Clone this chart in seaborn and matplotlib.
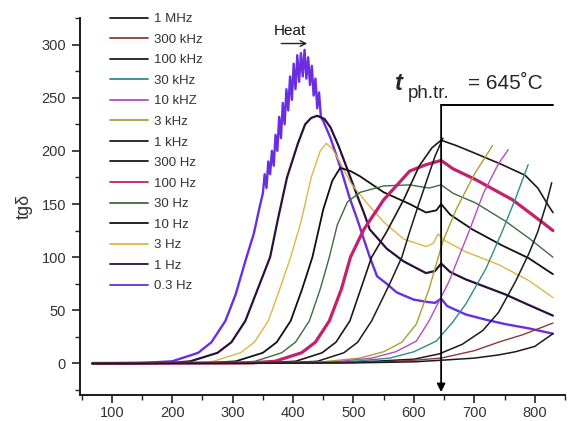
import numpy as np
import pandas as pd
import matplotlib
matplotlib.use("Agg")
import matplotlib.pyplot as plt
import seaborn as sns

# ---- data: loss tangent vs temperature for each measuring frequency ----
freq_labels = ["1 MHz", "300 kHz", "100 kHz", "30 kHz", "10 kHZ", "3 kHz", "1 kHz",
               "300 Hz", "100 Hz", "30 Hz", "10 Hz", "3 Hz", "1 Hz", "0.3 Hz"]

line_colors = ["#1b1b1b", "#8b3a3a", "#1b1b1b", "#2e8b8b", "#b24cc4", "#a8a032", "#1b1b1b",
               "#221616", "#c4206e", "#3d6b3d", "#111111", "#e2b444", "#2a1040", "#6a2ee0"]
line_widths = [1.1, 1.0, 1.1, 1.0, 1.0, 1.0, 1.1, 1.2, 2.3, 1.0, 1.3, 1.0, 1.6, 1.7]

t_1MHz = [68, 300, 500, 600, 645, 700, 740, 768, 800, 830]
v_1MHz = [0, 0, 0.5, 1.5, 3, 5, 8, 11, 16, 28]

t_300kHz = [68, 450, 550, 600, 645, 700, 740, 780, 830]
v_300kHz = [0, 0.5, 1.5, 3, 5, 12, 20, 27, 38]

t_100kHz = [68, 500, 600, 642, 680, 714, 740, 768, 790, 805, 818, 828]
v_100kHz = [0, 1, 4, 9, 18, 31, 48, 77, 103, 124, 148, 170]

t_30kHz = [68, 480, 560, 600, 637, 663, 686, 719, 746, 768, 789]
v_30kHz = [0, 1, 5, 11, 21, 38, 56, 89, 124, 155, 187]

t_10kHz = [68, 460, 530, 570, 604, 625, 658, 691, 715, 740, 756]
v_10kHz = [0, 1, 5, 11, 21, 40, 77, 124, 160, 188, 201]

t_3kHz = [68, 440, 510, 550, 580, 604, 625, 648, 670, 700, 730]
v_3kHz = [0, 1, 5, 11, 20, 37, 70, 115, 145, 178, 205]

t_1kHz = [68, 380, 440, 484, 507, 530, 560, 580, 593, 608, 620, 635, 648]
v_1kHz = [0, 0.5, 2, 10, 20, 40, 75, 100, 124, 150, 170, 195, 212]

t_300Hz = [68, 350, 404, 448, 471, 494, 515, 530, 555, 583, 609, 630, 645,
           670, 700, 746, 784, 805, 822, 830]
v_300Hz = [0, 0.5, 2, 10, 20, 40, 75, 100, 124, 154, 186, 203, 210,
           205, 198, 187, 177, 165, 149, 142]

t_100Hz = [68, 330, 370, 414, 437, 460, 480, 495, 517, 550, 593, 620, 645,
           665, 702, 763, 812, 830]
v_100Hz = [0, 0.5, 2, 10, 20, 40, 70, 100, 126, 154, 181, 187, 191,
           183, 173, 154, 133, 125]

t_30Hz = [68, 300, 337, 381, 404, 427, 445, 460, 473, 490, 511, 550, 593,
          625, 645, 665, 702, 751, 790, 830]
v_30Hz = [0, 0.5, 2, 10, 20, 40, 70, 100, 130, 152, 161, 167, 168,
          165, 168, 160, 151, 134, 118, 100]

t_10Hz = [68, 260, 305, 350, 373, 396, 415, 432, 450, 465, 478, 495, 511,
          550, 593, 620, 637, 645, 660, 697, 746, 790, 830]
v_10Hz = [0, 0.5, 2, 10, 20, 40, 70, 100, 145, 172, 184, 181, 176,
          161, 150, 142, 144, 150, 140, 126, 111, 99, 84]

t_3Hz = [68, 230, 268, 313, 336, 359, 378, 396, 413, 430, 445, 455, 465,
         478, 495, 522, 550, 583, 620, 632, 640, 650, 686, 740, 790, 830]
v_3Hz = [0, 0.5, 2, 10, 20, 40, 70, 100, 133, 175, 200, 207, 202,
         189, 170, 151, 133, 117, 110, 113, 122, 116, 105, 93, 78, 62]

t_1Hz = [68, 200, 230, 275, 298, 321, 362, 375, 390, 408, 420, 430, 440,
         452, 462, 475, 485, 506, 517, 527, 555, 583, 620, 635, 645, 660,
         686, 751, 790, 830]
v_1Hz = [0, 0.5, 2, 10, 20, 40, 100, 136, 175, 207, 225, 231, 233,
         230, 222, 205, 190, 158, 142, 126, 108, 96, 85, 87, 94, 86,
         79, 65, 55, 45]

t_03Hz = [68, 150, 200, 243, 265, 288, 305, 323, 335, 345, 350, 353, 356, 359,
          362, 365, 368, 371, 374, 377, 380, 383, 386, 389, 392, 395, 398, 401,
          404, 407, 410, 413, 416, 419, 422, 425, 428, 431, 434, 437, 440, 443,
          446, 450, 462, 478, 494, 506, 517, 527, 539, 555, 571, 583, 600, 620,
          635, 645, 655, 686, 720, 751, 790, 830]
v_03Hz = [0, 0.5, 2, 10, 20, 40, 65, 100, 122, 148, 160, 178, 165, 190,
          178, 200, 186, 215, 200, 232, 212, 245, 225, 258, 238, 270, 248, 282,
          258, 290, 265, 292, 270, 295, 268, 288, 262, 280, 252, 268, 240, 255,
          232, 228, 212, 185, 155, 136, 117, 100, 82, 75, 67, 64, 60, 58,
          57, 61, 54, 46, 41, 37, 33, 28]

series = [(t_1MHz, v_1MHz), (t_300kHz, v_300kHz), (t_100kHz, v_100kHz),
          (t_30kHz, v_30kHz), (t_10kHz, v_10kHz), (t_3kHz, v_3kHz),
          (t_1kHz, v_1kHz), (t_300Hz, v_300Hz), (t_100Hz, v_100Hz),
          (t_30Hz, v_30Hz), (t_10Hz, v_10Hz), (t_3Hz, v_3Hz),
          (t_1Hz, v_1Hz), (t_03Hz, v_03Hz)]

t_transition = 645
x_ticks = [100, 200, 300, 400, 500, 600, 700, 800]
y_ticks = [0, 50, 100, 150, 200, 250, 300]

frames = []
for lab, (t, v) in zip(freq_labels, series):
    frames.append(pd.DataFrame({"T": t, "tg": v, "freq": lab}))
df = pd.concat(frames, ignore_index=True)

# ---- figure ----
sns.set_style("ticks")
plt.rcParams["font.family"] = ["Liberation Sans", "DejaVu Sans"]

W, H = 572, 421
fig = plt.figure(figsize=(W / 100, H / 100), dpi=100)
ax = fig.add_axes([80 / W, (H - 395) / H, (565 - 80) / W, (395 - 18) / H])

# draw high-frequency curves first so low-frequency peaks sit on top
for lab, col, lw in reversed(list(zip(freq_labels, line_colors, line_widths))):
    sub = df[df["freq"] == lab]
    sns.lineplot(data=sub, x="T", y="tg", ax=ax, color=col, lw=lw,
                 label=lab, sort=False, estimator=None)

ax.set_xlim(47.4, 844)
ax.set_ylim(-29.7, 320.4)
ax.set_xticks(x_ticks)
ax.set_yticks(y_ticks)
ax.set_xticks([x + 50 for x in [0] + x_ticks], minor=True)
ax.set_yticks([-25] + [y + 25 for y in y_ticks], minor=True)
ax.tick_params(axis="both", which="major", direction="out", length=6, width=1.2,
               labelsize=10.5, labelcolor="#333333", color="#222222")
ax.tick_params(axis="x", which="major", pad=2)
ax.tick_params(axis="y", which="major", pad=4)
ax.tick_params(axis="both", which="minor", direction="out", length=3.5, width=1.0,
               color="#222222")
sns.despine(ax=ax)
for s in ("left", "bottom"):
    ax.spines[s].set_linewidth(1.4)
    ax.spines[s].set_color("#1a1a1a")
ax.set_xlabel("")
ax.set_ylabel("tgδ", fontsize=13, color="#333333", labelpad=6)

# legend in frequency order
handles, labels = ax.get_legend_handles_labels()
lookup = dict(zip(labels, handles))
leg = ax.legend([lookup[l] for l in freq_labels], freq_labels,
                loc="upper left", bbox_to_anchor=(110 / W, 1 - 13 / H),
                bbox_transform=fig.transFigure, frameon=False, fontsize=9.5,
                handlelength=2.9, handletextpad=0.4, labelspacing=0.63,
                borderpad=0, borderaxespad=0)
for txt in leg.get_texts():
    txt.set_color("#333333")
for hl in leg.get_lines():
    hl.set_linewidth(1.3)

# heating direction
ax.text(394, 313, "Heat", fontsize=11, ha="center", va="center", color="#111111")
ax.annotate("", xy=(428, 301), xytext=(376, 301),
            arrowprops=dict(arrowstyle="->", lw=1.0, color="#222222"))

# phase transition marker
y_bar = 243
ax.plot([t_transition, 830], [y_bar, y_bar], color="black", lw=1.4)
ax.annotate("", xy=(t_transition, -27), xytext=(t_transition, y_bar),
            arrowprops=dict(arrowstyle="-|>", lw=1.3, color="black",
                            mutation_scale=12, shrinkA=0, shrinkB=0))
fig.text(395 / W, 1 - 90 / H, "t", fontsize=17, style="italic", fontweight="bold",
         va="baseline", ha="left")
fig.text(408 / W, 1 - 98 / H, "ph.tr.", fontsize=13.5, va="baseline", ha="left")
fig.text(468 / W, 1 - 89 / H, f"= {t_transition}˚C", fontsize=15,
         va="baseline", ha="left")

fig.savefig("out.png", dpi=100)
